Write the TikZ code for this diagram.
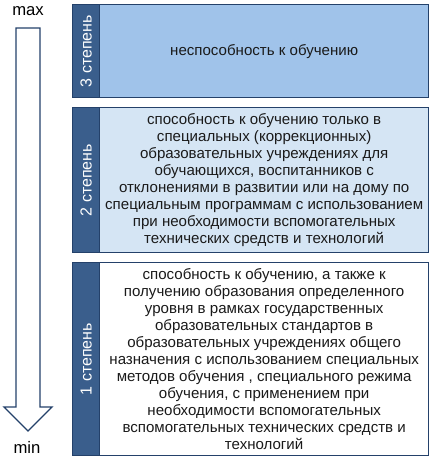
\documentclass[tikz,border=0pt]{standalone}
\usepackage{fontspec}
\setmainfont{Liberation Sans}
\definecolor{bordc}{HTML}{24416A}
\definecolor{stripc}{HTML}{3A5E8C}
\definecolor{fill3}{HTML}{A0C3EA}
\definecolor{fill2}{HTML}{D5E5F4}
\definecolor{textc}{HTML}{1A1A1A}
\begin{document}
\begin{tikzpicture}[x=0.75pt,y=-0.75pt,
  strip/.style={draw=bordc,fill=stripc,line width=1pt,anchor=north west,inner sep=0pt},
  striptext/.style={rotate=90,text=white,font=\fontsize{12}{14}\selectfont,inner sep=0pt},
  content/.style={draw=bordc,line width=1pt,anchor=north west,inner sep=0pt,align=center,text=textc,font=\fontsize{11.3}{12.8}\selectfont},
  lbl/.style={font=\fontsize{12.5}{14}\selectfont,inner sep=0pt}]
\useasboundingbox (0,0) rectangle (434,460);
% arrow
\draw[draw=bordc,line width=1pt,fill=white]
  (16,28) -- (40,28) -- (40,407) -- (52,407) -- (28,431) -- (4,407) -- (16,407) -- cycle;
\node[lbl] (max) at (28,11) {max};
\node[lbl] (min) at (27,447) {min};
% box 3
\node[content,fill=fill3,minimum width=329*0.75pt,minimum height=93*0.75pt] (c3) at (99,4) {неспособность к обучению};
\node[strip,minimum width=27*0.75pt,minimum height=93*0.75pt] (s3) at (72,4) {};
\node[striptext] (t3) at (s3.center) {3 степень};
% box 2
\node[content,fill=fill2,minimum width=329*0.75pt,minimum height=145*0.75pt] (c2) at (99,107) {способность к обучению только в\\специальных (коррекционных)\\образовательных учреждениях для\\обучающихся, воспитанников с\\отклонениями в развитии или на дому по\\специальным программам с использованием\\при необходимости вспомогательных\\технических средств и технологий};
\node[strip,minimum width=27*0.75pt,minimum height=145*0.75pt] (s2) at (72,107) {};
\node[striptext] (t2) at (s2.center) {2 степень};
% box 1
\node[content,fill=white,minimum width=329*0.75pt,minimum height=193*0.75pt] (c1) at (99,262) {способность к обучению, а также к\\получению образования определенного\\уровня в рамках государственных\\образовательных стандартов в\\образовательных учреждениях общего\\назначения с использованием специальных\\методов обучения , специального режима\\обучения, с применением при\\необходимости вспомогательных\\вспомогательных технических средств и\\технологий};
\node[strip,minimum width=27*0.75pt,minimum height=193*0.75pt] (s1) at (72,262) {};
\node[striptext] (t1) at (s1.center) {1 степень};
\end{tikzpicture}
\end{document}
